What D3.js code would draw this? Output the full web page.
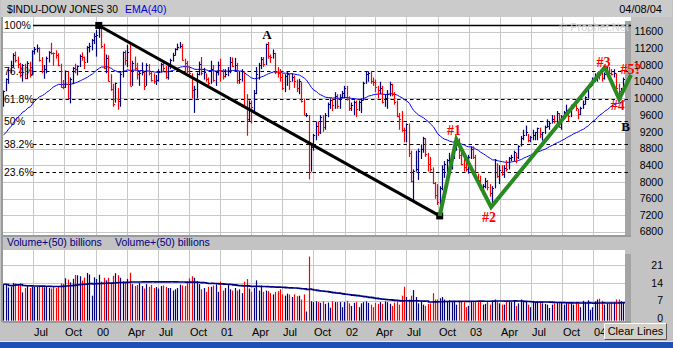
<!DOCTYPE html>
<html>
<head>
<meta charset="utf-8">
<script src="https://cdn.jsdelivr.net/npm/d3@7/dist/d3.min.js"></script>
<style>
  html, body { margin: 0; padding: 0; background: #c3c3c3; }
  svg { display: block; }
  text { font-family: "Liberation Sans", Arial, sans-serif; }
</style>
</head>
<body>
<svg id="chart" width="673" height="348"></svg>
<script>
// Weekly $INDU bars, one entry per week (weeks start Monday 1999-04-05)
const closes = [
  10173,10463,10689,10789,11031,10913,10829,10560,10800,10490,10856,10552,11139,11193,11209,10911,10655,10714,10973,11100,11090,11078,11028,10803,10279,10273,10649,10019,10470,10730,10704,10770,11003,10988,10877,11224,11257,11405,11497,
  11522,11723,11251,10739,10964,10425,10220,9862,10367,9929,10595,11112,10922,11111,10306,10844,10734,10577,10609,10627,10300,10794,10614,10449,10405,10447,10636,10812,10733,10511,10767,10908,11046,11192,11238,11260,10927,10847,10651,10596,10192,10226,10590,10817,10602,10629,10470,10374,10712,10434,10635,10787,
  10662,10525,10587,10659,10864,10781,10799,10441,10466,10644,9823,9504,9879,9791,10127,10579,10810,10951,10821,11301,11006,10990,11090,10623,10604,10502,10252,10539,10577,10416,10512,10416,10240,10423,9949,9605,9606,8236,8847,9119,9344,9204,9545,9324,9608,9866,9960,9851,10049,9811,10036,10136,
  10259,9987,9772,9840,9907,9744,9903,9968,10368,10573,10608,10427,10404,10271,10190,10257,9910,10006,10110,10353,10105,9925,9589,9503,9253,9243,9379,8684,8019,8264,8313,8745,8778,9057,8664,8428,8312,7986,7701,7528,7850,8322,8443,8517,8537,8579,8805,8896,8645,8433,8364,8303,
  8601,8785,8587,8131,8054,7865,7909,8018,7891,7740,7859,8522,8145,8278,8203,8338,8307,8582,8604,8719,8601,8850,9062,9117,9200,9011,9070,9119,9188,9284,9153,9191,9321,9348,9415,9503,9471,9644,9313,9572,9674,9721,9582,9801,9809,9768,9629,9782,9863,10042,10278,10305,
  10409,10458,10600,10568,10488,10593,10628,10619,10584,10596,10240,10186,10212,10470,10442
];
const highs = [
  10190,10480,10720,10900,11080,11120,11000,10850,10820,10830,10890,10880,11150,11230,11290,11220,10990,10800,11000,11130,11330,11100,11150,11080,10830,10440,10670,10660,10500,10750,10830,10790,11050,11100,11000,11250,11330,11420,11560,
  11640,11750,11700,11310,11050,11030,10580,10350,10380,10250,10620,11120,11150,11280,11300,10900,11000,10850,10650,10860,10630,10840,10820,10650,10600,10560,10700,10850,10880,10780,10800,10950,11090,11200,11310,11350,11300,10950,10900,10780,10600,10300,10620,10880,10990,10730,10600,10500,10900,10800,10650,10880,
  10950,10700,10700,10750,10990,10980,10970,10850,10650,10700,10650,10100,9950,9950,10200,10750,10850,10990,10990,11310,11350,11050,11170,11090,10750,10700,10600,10580,10650,10600,10600,10550,10450,10470,10400,9990,9650,9600,8900,9150,9450,9450,9600,9600,9650,9900,10000,10000,10150,10100,10100,10180,
  10300,10300,10050,9900,9950,9950,9950,10000,10400,10650,10650,10650,10500,10450,10300,10400,10300,10100,10200,10400,10350,10150,9950,9650,9700,9300,9400,9400,8750,8300,8750,8800,8900,9080,9050,8700,8600,8350,8000,7950,7900,8400,8500,8550,8700,8650,8900,9000,9043,8700,8550,8500,
  8650,8850,8850,8650,8200,8150,7950,8100,8050,7950,7900,8550,8450,8400,8400,8400,8520,8600,8650,8750,8700,8880,9100,9250,9350,9150,9100,9250,9200,9300,9300,9200,9350,9500,9450,9600,9600,9700,9650,9600,9700,9850,9750,9850,9880,9850,9750,9800,9950,10050,10300,10350,
  10500,10600,10620,10650,10700,10620,10750,10753,10700,10700,10600,10350,10250,10500,10570
];
const lows = [
  9800,10170,10350,10600,10750,10860,10720,10500,10400,10460,10460,10500,10550,11050,11100,10880,10600,10470,10600,10860,11050,10780,10950,10770,10250,10220,10250,9980,9880,10340,10600,10550,10750,10900,10700,10850,11100,11150,11300,
  11000,11450,11200,10700,10600,10400,10180,9800,9900,9730,9800,10500,10800,10750,10300,10300,10650,10450,10300,10550,10200,10300,10550,10400,10350,10320,10400,10620,10640,10470,10450,10700,10880,11020,11150,11200,10900,10600,10600,10550,10000,9654,10000,10550,10550,10450,10400,10300,10350,10400,10300,10550,
  10400,10450,10500,10530,10600,10750,10650,10350,10350,10400,9800,9106,9450,9400,9700,10100,10450,10700,10750,10800,10950,10850,10950,10580,10500,10400,10200,10150,10300,10200,10400,10250,10150,10100,9900,9600,9550,8062,8250,8750,9000,9100,9150,9200,9250,9550,9750,9700,9750,9750,9750,10000,
  10000,9950,9700,9700,9600,9550,9700,9650,9950,10350,10400,10350,10300,10150,10000,10100,9880,9800,9750,10050,10050,9850,9550,9250,9200,8950,8950,8600,7990,7532,8250,8050,8550,8700,8600,8250,8250,7950,7600,7450,7197,7800,8100,8100,8450,8300,8550,8750,8550,8400,8250,8250,
  8200,8550,8550,8100,7950,7800,7700,7850,7800,7650,7416,7850,8100,7950,8150,8100,8250,8300,8500,8500,8450,8550,8850,9000,9100,8950,8950,9000,9000,9000,9050,8990,9150,9300,9250,9400,9400,9400,9300,9250,9500,9650,9450,9550,9750,9700,9500,9600,9750,9850,10000,10250,
  10300,10400,10400,10450,10400,10450,10550,10580,10550,10500,10100,10100,10000,10200,10400
];
// Weekly volume, billions
const volumes = [
  13.5,13.3,12.2,12.5, 14,13.8,13.5,13.8, 10.3,12,13,12, 12.5,12.5,12.6,12.4,12.5, 12.3,12.5,12,11.8, 12.5,12,12.6,13.8, 13.6,15.8,15.3,14.2,15.6, 17.1,17,16.6,14.9, 16.1,17.9,17.3,9,16.2,
  15.5,17.2,14.5,16, 15,16,14,16.8, 17.8,17,16,14.5,14, 15.5,18,13.5,12.8, 13.2,14,12.8,11.8, 13.5,12.5,13.2,12,12.4, 11.8,12.8,13,12.5, 12,12,11,11.5, 12,13.3,13,12.8,14, 15.8,16.6,16,14.5, 13.5,11.5,12,10.5, 12.5,12.5,13,13.5,10.5,
  14.5,11,12,13.5, 11.5,11,12,11, 11.5,10,14.5,15.5,11.8, 10.5,12,15,11, 13,10.5,11,10.8, 10,9.5,10.5,10.8,11.5, 9.5,9,9.8,9.5, 8.5,9.5,8.8,9,7.5, 9.5,2.8,24.3,6.8, 6.5,6.8,6.5,6.2, 6.8,5.8,6.3,4.3,6.8, 6.5,6.5,6.5,4.5,
  6.5,7,6,5, 6.2,6.5,4.5,6, 6.5,6.8,6.2,5.5,4.5, 6.2,5.8,6.5,5.8, 6.8,6.5,5.8,5,6.3, 6.8,5.5,9,12.5, 8.5,7.5,9,11.2, 8.5,6,7,5.5,5, 5.8,6,10,7.5, 7.5,8,8.5,7.5, 7,7.2,6.5,7,5.5, 7,6.8,7,4.5,
  5,6.5,6.5,6.8,6.5, 6.8,5.5,5.8,6.5, 5.5,7,7.5,6.5, 6,5.5,5.5,6.5, 6.8,6.5,7.2,5,6, 7.5,6.5,6.8,5.5, 4.5,7,6.5,6.8, 6.5,6,5.8,5.5,4.2, 5.5,6,6.5,6.5, 6.5,5.5,6.5,6,6.5, 5.5,6.5,6,4.5, 7,6.5,7.2,3.5,
  4.5,6.8,7.5,7.8,7, 5.5,6,6,6.5, 6.5,7.5,7.5,6.8, 6.5,5.5
];
const priceTicks = [6800,7200,7600,8000,8400,8800,9200,9600,10000,10400,10800,11200,11600];
const volumeTicks = [0,7,14,21];
const fibRatios = [1, 0.764, 0.618, 0.5, 0.382, 0.236];
const fibNames = ["100%","76.4%","61.8%","50%","38.2%","23.6%"];
const fibHigh = 11750, fibLow = 7150;
const emaPeriod = 40, emaStart = 9075;   // EMA value carried in from the prior week
const volAvgPeriod = 50;

// Annotation lines
const trendPoints = [{d:"2000-01-10", v:11745}, {d:"2002-10-07", v:7190}];
const wavePoints = [
  {d:"2002-10-07", v:7190}, {d:"2002-11-25", v:9020}, {d:"2003-03-07", v:7400},
  {d:"2004-02-04", v:10745}, {d:"2004-03-17", v:9985}, {d:"2004-04-21", v:10560}
];
const waveLabels = [
  {t:"#1", d:"2002-11-18", v:9230}, {t:"#2", d:"2003-03-01", v:7170},
  {t:"#3", d:"2004-01-31", v:10880}, {t:"#4", d:"2004-03-13", v:9840}, {t:"#5?", d:"2004-04-21", v:10700}
];
const letterLabels = [{t:"A", d:"2001-05-18", v:11540}, {t:"B", d:"2004-04-05", v:9325}];

const svg = d3.select("#chart");
const parse = d3.timeParse("%Y-%m-%d");
const weeks = d3.timeMonday.range(new Date(1999,3,5), new Date(2004,3,6));

const plotL = 3, plotR = 625, mainT = 17, mainB = 235, volT = 250, volB = 321;
const x = d3.scaleTime().domain([new Date(2000,0,1), new Date(2004,0,1)]).range([95.7, 593.3]);
const y = d3.scaleLinear().domain([6800, 11600]).range([232.2, 31.5]);
const vy = d3.scaleLinear().domain([0, 21]).range([318.7, 265]);

const NAVY = "#000080", RED = "#ff0000";
const barColor = i => (i > 0 && closes[i] < closes[i-1]) ? RED : NAVY;

// Panels
svg.append("rect").attr("x",0).attr("y",0).attr("width",673).attr("height",348).attr("fill","#c3c3c3");
svg.append("rect").attr("x",1).attr("y",0).attr("width",671).attr("height",17).attr("fill","#cbcbcb");
svg.append("rect").attr("x",plotL).attr("y",mainT).attr("width",plotR-plotL+6).attr("height",mainB-mainT).attr("fill","#fff");
svg.append("rect").attr("x",plotL).attr("y",volT).attr("width",plotR-plotL).attr("height",volB-volT).attr("fill","#fff");
svg.append("rect").attr("x",plotR).attr("y",21).attr("width",6).attr("height",mainB-21).attr("fill","#a4a4a4");
svg.append("rect").attr("x",plotR).attr("y",254).attr("width",6).attr("height",volB-254+1).attr("fill","#a4a4a4");
svg.append("rect").attr("x",1).attr("y",17).attr("width",2).attr("height",305).attr("fill","#9a9a9a");
svg.append("rect").attr("x",plotL).attr("y",mainB).attr("width",plotR-plotL+6).attr("height",2).attr("fill","#9a9a9a");
svg.append("rect").attr("x",plotL).attr("y",volB).attr("width",plotR-plotL+6).attr("height",2).attr("fill","#9a9a9a");
svg.append("rect").attr("x",0).attr("y",341).attr("width",673).attr("height",1).attr("fill","#e8e8e8");
svg.append("rect").attr("x",0).attr("y",342).attr("width",673).attr("height",6).attr("fill","#1f4fb4");

svg.append("defs").call(d => {
  d.append("clipPath").attr("id","clipMain").append("rect").attr("x",plotL).attr("y",mainT).attr("width",plotR-plotL).attr("height",mainB-mainT);
  d.append("clipPath").attr("id","clipVol").append("rect").attr("x",plotL).attr("y",volT).attr("width",plotR-plotL).attr("height",volB-volT);
});

// Grid
const quarters = d3.timeMonth.every(3).range(new Date(1999,6,1), new Date(2004,1,1));
const grid = svg.append("g").attr("stroke","#c8c8c8").attr("stroke-width",1);
quarters.forEach(q => {
  const gx = Math.round(x(q)) + 0.5;
  grid.append("line").attr("x1",gx).attr("x2",gx).attr("y1",mainT).attr("y2",mainB);
  grid.append("line").attr("x1",gx).attr("x2",gx).attr("y1",volT).attr("y2",volB);
});
priceTicks.forEach(t => {
  const gy = Math.round(y(t)) + 0.5;
  grid.append("line").attr("x1",plotL).attr("x2",plotR).attr("y1",gy).attr("y2",gy);
});
volumeTicks.filter(t => t > 0).forEach(t => {
  const gy = Math.round(vy(t)) + 0.5;
  grid.append("line").attr("x1",plotL).attr("x2",plotR).attr("y1",gy).attr("y2",gy);
});

// Fibonacci retracement levels
const fibValue = r => fibLow + r * (fibHigh - fibLow);
fibRatios.forEach((r, k) => {
  const fy = Math.round(y(fibValue(r))) + 0.5;
  svg.append("line").attr("x1",33).attr("x2",631).attr("y1",fy).attr("y2",fy)
    .attr("stroke","#000").attr("stroke-width", r === 1 ? 1.3 : 1)
    .attr("stroke-dasharray", r === 1 ? null : "3.5,3");
  svg.append("text").attr("x",4).attr("y",fy).attr("dy","0.35em")
    .attr("font-size","10.5px").attr("fill","#000").text(fibNames[k]);
});

// EMA(40) of closes
const alpha = 2 / (emaPeriod + 1);
const ema = [];
closes.forEach((c, i) => ema.push((i ? ema[i-1] : emaStart) + alpha * (c - (i ? ema[i-1] : emaStart))));
const bx = i => Math.round(x(weeks[i])) + 0.5;

const mainG = svg.append("g").attr("clip-path","url(#clipMain)");
mainG.append("path").datum(ema)
  .attr("d", d3.line().x((d,i) => bx(i)).y(d => y(d)))
  .attr("fill","none").attr("stroke","#0000ff").attr("stroke-width",1);

// Price bars: high-low stem with close tick
const bars = mainG.append("g");
closes.forEach((c, i) => {
  const col = barColor(i), xi = bx(i);
  bars.append("line").attr("x1",xi).attr("x2",xi).attr("y1",y(highs[i])).attr("y2",y(lows[i]))
    .attr("stroke",col).attr("stroke-width",1.2);
  const cy = Math.round(y(c)) + 0.5;
  bars.append("line").attr("x1",xi).attr("x2",xi+1.6).attr("y1",cy).attr("y2",cy)
    .attr("stroke",col).attr("stroke-width",1);
});

// Volume bars and moving average
const volG = svg.append("g").attr("clip-path","url(#clipVol)");
volumes.forEach((v, i) => {
  volG.append("rect").attr("x", bx(i) - 0.6).attr("width",1.2)
    .attr("y", vy(v)).attr("height", vy(0) - vy(v) + 2).attr("fill", barColor(i));
});
const volAvg = volumes.map((v, i) => d3.mean(volumes.slice(Math.max(0, i - volAvgPeriod + 1), i + 1)));
volG.append("path").datum(volAvg)
  .attr("d", d3.line().x((d,i) => bx(i)).y(d => vy(d)).curve(d3.curveStepAfter))
  .attr("fill","none").attr("stroke",NAVY).attr("stroke-width",1.6);

// Trend line and wave count
const pt = p => [x(parse(p.d)), y(p.v)];
svg.append("path").datum(trendPoints)
  .attr("d", d3.line().x(p => pt(p)[0]).y(p => pt(p)[1]))
  .attr("stroke","#000").attr("stroke-width",3).attr("fill","none");
trendPoints.forEach(p => {
  const [px, py] = pt(p);
  svg.append("rect").attr("x",px-3.5).attr("y",py-3.5).attr("width",7).attr("height",7).attr("fill","#000");
});
svg.append("path").datum(wavePoints)
  .attr("d", d3.line().x(p => pt(p)[0]).y(p => pt(p)[1]))
  .attr("stroke","#2a8a22").attr("stroke-width",4).attr("stroke-linejoin","miter").attr("fill","none");

// Watermark
svg.append("text").attr("x",594).attr("y",27).attr("dy","0.35em").attr("text-anchor","middle")
  .attr("font-size","11px").attr("fill","#d4d4d4").text("\u00a9 Prophet.Net");

// Right axes
svg.append("g").selectAll("text").data(priceTicks.slice(1)).join("text")
  .attr("x",663).attr("y",d => y(d)).attr("dy","0.35em").attr("text-anchor","end")
  .attr("font-size","10.5px").attr("fill","#000").text(d => d);
svg.append("text").attr("x",663).attr("y",y(6800)-1).attr("dy","0.35em").attr("text-anchor","end")
  .attr("font-size","10.5px").text(priceTicks[0]);
svg.append("g").selectAll("text").data(volumeTicks).join("text")
  .attr("x",663).attr("y",d => vy(d)).attr("dy","0.35em").attr("text-anchor","end")
  .attr("font-size","10.5px").attr("fill","#000").text(d => d);

// Labels on the price panel
waveLabels.forEach(l => {
  svg.append("text").attr("x",x(parse(l.d))).attr("y",y(l.v)).attr("dy","0.35em").attr("text-anchor","middle")
    .style("font-family","'Liberation Serif','Times New Roman',serif").attr("font-weight","bold")
    .attr("font-size","14px").attr("fill",RED).text(l.t);
});
letterLabels.forEach(l => {
  svg.append("text").attr("x",x(parse(l.d))).attr("y",y(l.v)).attr("dy","0.35em").attr("text-anchor","middle")
    .style("font-family","'Liberation Serif','Times New Roman',serif").attr("font-weight","bold")
    .attr("font-size","13px").attr("fill","#000").text(l.t);
});

// Titles
svg.append("text").attr("x",7).attr("y",9).attr("dy","0.35em").attr("font-size","10.3px").attr("fill","#000").text("$INDU-DOW JONES 30");
svg.append("text").attr("x",125).attr("y",9).attr("dy","0.35em").attr("font-size","10.5px").attr("fill","#0000e0").text("EMA(40)");
svg.append("text").attr("x",662).attr("y",9).attr("dy","0.35em").attr("text-anchor","end").attr("font-size","11px").attr("fill","#000").text("04/08/04");
svg.append("text").attr("x",7).attr("y",242).attr("dy","0.35em").attr("font-size","10.5px").attr("fill",NAVY).text("Volume+(50) billions");
svg.append("text").attr("x",115).attr("y",242).attr("dy","0.35em").attr("font-size","10.5px").attr("fill",NAVY).text("Volume+(50) billions");

// Time axis labels
const fmt = d => d.getMonth() === 0 ? d3.timeFormat("%y")(d) : d3.timeFormat("%b")(d);
svg.append("g").selectAll("text").data(quarters).join("text")
  .attr("x", d => Math.round(x(d)) + 1).attr("y",332).attr("dy","0.35em")
  .attr("font-size","11px").attr("fill","#000").text(fmt);

// Clear Lines button
const btn = svg.append("g");
btn.append("rect").attr("x",604).attr("y",323).attr("width",63).attr("height",17).attr("fill","#d4d0c8");
btn.append("path").attr("d","M604.5,339.5V323.5H666.5").attr("stroke","#fff").attr("fill","none");
btn.append("path").attr("d","M604.5,339.5H666.5V323.5").attr("stroke","#555").attr("fill","none");
btn.append("text").attr("x",635.5).attr("y",331.5).attr("dy","0.35em").attr("text-anchor","middle")
  .attr("font-size","11px").attr("fill","#000").text("Clear Lines");
</script>
</body>
</html>
